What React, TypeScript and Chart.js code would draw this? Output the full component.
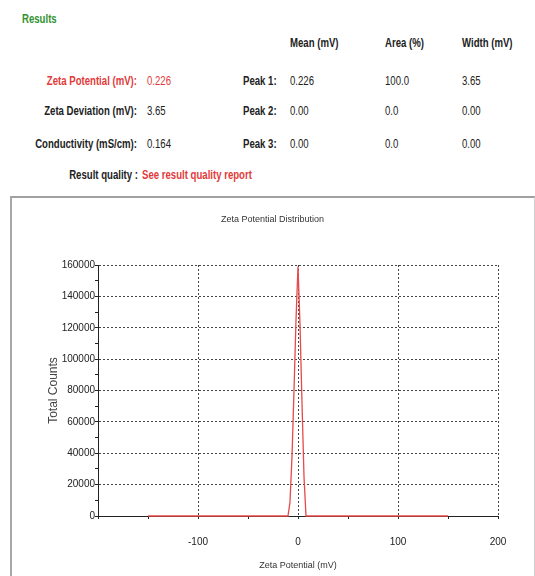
import React, { useEffect, useRef } from "react";
import { Chart, registerables } from "chart.js";

Chart.register(...registerables);

// ---- data ----
const zetaPotential = [-150, -10, -8, -6, -4, -2, 0, 2, 4, 6, 8, 150];
const totalCounts = [0, 0, 9000, 38000, 80000, 125000, 159000, 122000, 72000, 25000, 0, 0];
const xLabelValues = [-100, 0, 100, 200];
const yLabelValues = [0, 20000, 40000, 60000, 80000, 100000, 120000, 140000, 160000];

const resultLabels = ["Zeta Potential (mV):", "Zeta Deviation (mV):", "Conductivity (mS/cm):"];
const resultValues = ["0.226", "3.65", "0.164"];
const columnHeaders = ["Mean (mV)", "Area (%)", "Width (mV)"];
const peakNames = ["Peak 1:", "Peak 2:", "Peak 3:"];
const peakMeans = ["0.226", "0.00", "0.00"];
const peakAreas = ["100.0", "0.0", "0.0"];
const peakWidths = ["3.65", "0.00", "0.00"];

const FONT = "'Liberation Sans', Arial, sans-serif";
const RED = "#e23a3a";

type TProps = {
  x: number;
  y: number;
  text: string;
  align?: "left" | "right";
  color?: string;
  bold?: boolean;
  size?: number;
};

function T({ x, y, text, align = "left", color = "#222", bold = false, size = 12 }: TProps) {
  return (
    <div
      style={{
        position: "absolute",
        left: x,
        top: y,
        whiteSpace: "nowrap",
        fontFamily: FONT,
        fontSize: size,
        lineHeight: 1,
        fontWeight: bold ? 700 : 400,
        color,
        transformOrigin: align === "right" ? "right center" : "left center",
        transform: `translate(${align === "right" ? "-100%" : "0"}, -50%) scaleX(0.8)`,
      }}
    >
      {text}
    </div>
  );
}

export default function App() {
  const canvasRef = useRef<HTMLCanvasElement | null>(null);

  useEffect(() => {
    if (!canvasRef.current) return;
    const points = zetaPotential.map((x, i) => ({ x, y: totalCounts[i] }));
    const chart = new Chart(canvasRef.current, {
      type: "line",
      data: {
        datasets: [
          {
            data: points,
            borderColor: "#e54a4a",
            borderWidth: 1.3,
            pointRadius: 0,
            tension: 0,
            fill: false,
            clip: false,
          },
        ],
      },
      options: {
        animation: false,
        responsive: false,
        devicePixelRatio: 1,
        layout: { padding: 0 },
        plugins: {
          legend: { display: false },
          tooltip: { enabled: false },
          title: {
            display: true,
            text: "Zeta Potential Distribution",
            color: "#333",
            font: { family: FONT, size: 9, weight: "normal" },
            padding: { top: 16.6, bottom: 39.6 },
          },
        },
        scales: {
          x: {
            type: "linear",
            min: -200,
            max: 200,
            afterFit: (s: any) => {
              s.height = 62;
            },
            ticks: {
              stepSize: 50,
              autoSkip: false,
              maxRotation: 0,
              padding: 17,
              color: "#222",
              font: { family: FONT, size: 10 },
              callback: (v: any) => (xLabelValues.includes(Number(v)) ? String(v) : ""),
            },
            grid: {
              color: (c: any) =>
                c.tick && c.tick.value % 100 === 0 && c.tick.value !== -200 ? "#444" : "rgba(0,0,0,0)",
              tickColor: "#222",
              tickLength: 3,
              lineWidth: 1,
            },
            border: { display: true, color: "#222", width: 1, dash: [2, 2] },
            title: {
              display: true,
              text: "Zeta Potential (mV)",
              color: "#333",
              font: { family: FONT, size: 9 },
              padding: { top: 0, bottom: 6.6 },
            },
          },
          y: {
            type: "linear",
            min: 0,
            max: 160000,
            afterFit: (s: any) => {
              s.width = 86;
            },
            ticks: {
              stepSize: 10000,
              autoSkip: false,
              padding: 0,
              color: "#222",
              font: { family: FONT, size: 10 },
              callback: (v: any) => (yLabelValues.includes(Number(v)) ? String(v) : ""),
            },
            grid: {
              color: (c: any) =>
                c.tick && c.tick.value % 20000 === 0 && c.tick.value !== 0 ? "#444" : "rgba(0,0,0,0)",
              tickColor: "#222",
              tickLength: 3,
              lineWidth: 1,
            },
            border: { display: true, color: "#222", width: 1, dash: [2, 2] },
            title: {
              display: true,
              text: "Total Counts",
              color: "#444",
              font: { family: FONT, size: 12 },
              padding: { top: 34, bottom: 0 },
            },
          },
          yRightSpace: {
            type: "linear",
            position: "right",
            min: 0,
            max: 1,
            afterFit: (s: any) => {
              s.width = 35;
            },
            ticks: { display: false },
            grid: { display: false, drawOnChartArea: false },
            border: { display: false },
          },
        },
      },
    } as any);
    return () => chart.destroy();
  }, []);

  const rowY = [81, 111, 144];

  return (
    <div
      style={{
        position: "fixed",
        left: 0,
        top: 0,
        width: 535,
        height: 576,
        overflow: "hidden",
        background: "#fff",
      }}
    >
      <T x={22} y={19} text="Results" color="#2f922f" bold size={12} />
      <T x={290} y={43} text={columnHeaders[0]} bold />
      <T x={385} y={43} text={columnHeaders[1]} bold />
      <T x={462} y={43} text={columnHeaders[2]} bold />
      {resultLabels.map((lab, i) => (
        <React.Fragment key={lab}>
          <T x={137} y={rowY[i]} text={lab} align="right" bold color={i === 0 ? RED : "#222"} />
          <T x={147} y={rowY[i]} text={resultValues[i]} color={i === 0 ? RED : "#222"} />
          <T x={243} y={rowY[i]} text={peakNames[i]} bold />
          <T x={290} y={rowY[i]} text={peakMeans[i]} />
          <T x={385} y={rowY[i]} text={peakAreas[i]} />
          <T x={462} y={rowY[i]} text={peakWidths[i]} />
        </React.Fragment>
      ))}
      <T x={138} y={175} text="Result quality :" align="right" bold />
      <T x={142} y={175} text="See result quality report" bold color={RED} />
      <div
        style={{
          position: "absolute",
          left: 10,
          top: 196,
          width: 522,
          height: 420,
          borderLeft: "2px solid #a8a8a8",
          borderTop: "2px solid #a0a0a0",
          borderRight: "1px solid #cfcfcf",
        }}
      />
      <canvas
        ref={canvasRef}
        width={521}
        height={380}
        style={{ position: "absolute", left: 12, top: 198, width: 521, height: 380 }}
      />
    </div>
  );
}
